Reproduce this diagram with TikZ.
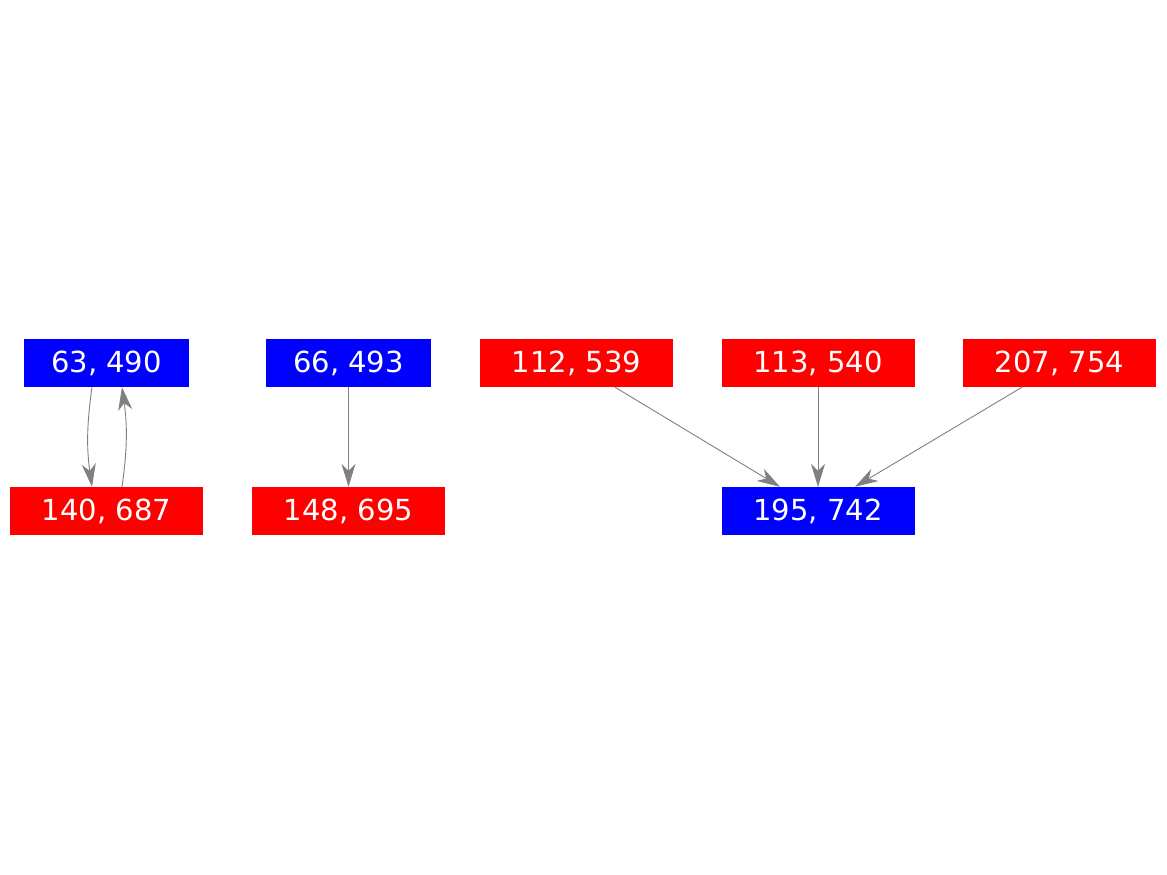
\documentclass[tikz,border=0pt]{standalone}
\usepackage{fontspec}
\setmainfont{DejaVu Sans}
\usetikzlibrary{arrows.meta,calc}
\begin{document}
\begin{tikzpicture}[x=1pt,y=-1pt,
  box/.style={draw=none,minimum height=48pt,inner sep=0pt,text=white,font=\fontsize{29}{34}\selectfont},
  bluebox/.style={box,fill=blue,minimum width=165pt},
  redbox/.style={box,fill=red,minimum width=193pt},
  edge/.style={draw=gray,line width=0.9pt,-{Stealth[length=23pt,width=14pt,inset=7pt]}}]
\useasboundingbox (0,0) rectangle (1167,875);
\node[bluebox] (a) at (106.5,363) {63, 490};
\node[redbox]  (b) at (106.5,511) {140, 687};
\node[bluebox] (c) at (348.5,363) {66, 493};
\node[redbox]  (d) at (348.5,511) {148, 695};
\node[redbox]  (e) at (576.5,363) {112, 539};
\node[redbox]  (f) at (818,363) {113, 540};
\node[redbox]  (g) at (1059.5,363) {207, 754};
\node[bluebox,minimum width=193pt] (h) at (818,511) {195, 742};
\draw[edge] ($(a.south)+(-14.5,0)$) to[bend right=8] ($(b.north)+(-14.5,0)$);
\draw[edge] ($(b.north)+(15.5,0)$) to[bend right=8] ($(a.south)+(15.5,0)$);
\draw[edge] (c.south) -- (d.north);
\draw[edge] ($(e.south)+(38.5,0)$) -- ($(h.north)+(-38,0)$);
\draw[edge] (f.south) -- (h.north);
\draw[edge] ($(g.south)+(-37.5,0)$) -- ($(h.north)+(37,0)$);
\end{tikzpicture}
\end{document}
